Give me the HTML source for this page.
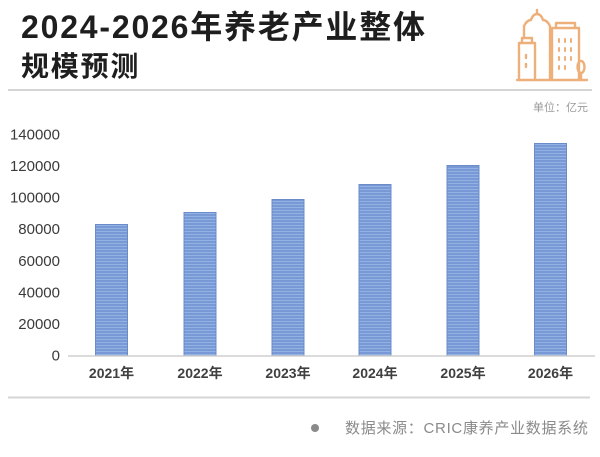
<!DOCTYPE html>
<html>
<head>
<meta charset="utf-8">
<style>
  html,body{margin:0;padding:0;background:#fff;}
  body{width:600px;height:457px;overflow:hidden;}
  svg{display:block;}
  text{font-family:"Liberation Sans","Noto Sans CJK SC",sans-serif;}
</style>
</head>
<body>
<svg width="600" height="457" viewBox="0 0 600 457" xmlns="http://www.w3.org/2000/svg">
  <defs>
    <pattern id="stripe" width="4" height="3" patternUnits="userSpaceOnUse">
      <rect width="4" height="3" fill="#7899d5"/>
      <rect y="0" width="4" height="1" fill="#93b2e4"/>
    </pattern>
  </defs>
  <rect width="600" height="457" fill="#fff"/>

  <!-- Title -->
  <text x="21" y="38" font-size="32" font-weight="700" fill="#1e1e1e" letter-spacing="1.8">2024-2026年养老产业整体</text>
  <text x="21" y="76" font-size="28" font-weight="700" fill="#1e1e1e" letter-spacing="1.8">规模预测</text>

  <!-- Icon -->
  <g fill="none" stroke="#eeb07a" stroke-width="2.4" stroke-linejoin="round" stroke-linecap="round">
    <line x1="517" y1="80" x2="587" y2="80"/>
    <polyline points="519,80 519,43 535,43 535,80"/>
    <polyline points="522,43 522,38 532,38 532,43"/>
    <line x1="526" y1="55" x2="526" y2="58"/>
    <line x1="526" y1="64" x2="526" y2="67"/>
    <path d="M524,38 L524,26 Q527,20 531,20 Q533,14 537,14 Q541,14 543,20 Q547,20 550,26 L550,80"/>
    <line x1="537" y1="14" x2="537" y2="10"/>
    <polyline points="552,80 552,28 579,28 579,80"/>
    <polyline points="556,28 556,23 575,23 575,28"/>
    <g stroke-width="2">
      <line x1="559" y1="39" x2="559" y2="42"/><line x1="565" y1="39" x2="565" y2="42"/><line x1="571" y1="39" x2="571" y2="42"/>
      <line x1="559" y1="48" x2="559" y2="51"/><line x1="565" y1="48" x2="565" y2="51"/><line x1="571" y1="48" x2="571" y2="51"/>
      <line x1="559" y1="57" x2="559" y2="60"/><line x1="565" y1="57" x2="565" y2="60"/><line x1="571" y1="57" x2="571" y2="60"/>
      <line x1="559" y1="66" x2="559" y2="69"/><line x1="565" y1="66" x2="565" y2="69"/>
    </g>
    <ellipse cx="581" cy="67" rx="3.5" ry="6"/>
    <line x1="581" y1="73" x2="581" y2="80"/>
  </g>

  <!-- top divider -->
  <line x1="8" y1="90" x2="592" y2="90" stroke="#d4d4d4" stroke-width="2"/>

  <!-- unit -->
  <text x="588" y="111" font-size="11" fill="#9a9a9a" text-anchor="end">单位：亿元</text>

  <!-- Y axis labels -->
  <g font-size="15" fill="#3a3a3a" text-anchor="end" font-weight="400">
    <text x="60" y="139.5">140000</text>
    <text x="60" y="171">120000</text>
    <text x="60" y="202.5">100000</text>
    <text x="60" y="234">80000</text>
    <text x="60" y="266">60000</text>
    <text x="60" y="297.5">40000</text>
    <text x="60" y="329">20000</text>
    <text x="60" y="360.5">0</text>
  </g>

  <!-- Bars -->
  <g fill="url(#stripe)" stroke="#6b8bc9" stroke-width="1">
    <rect x="95.5" y="224.5" width="32" height="131.5"/>
    <rect x="184" y="212.5" width="32" height="143.5"/>
    <rect x="272" y="199.5" width="32" height="156.5"/>
    <rect x="359" y="184.5" width="32" height="171.5"/>
    <rect x="447" y="165.5" width="32" height="190.5"/>
    <rect x="534.5" y="143.5" width="32" height="212.5"/>
  </g>

  <!-- X axis -->
  <line x1="68" y1="356" x2="595" y2="356" stroke="#cfcfcf" stroke-width="1.5"/>

  <!-- X labels -->
  <g font-size="14" fill="#404040" text-anchor="middle" font-weight="600">
    <text x="111.5" y="378">2021年</text>
    <text x="200" y="378">2022年</text>
    <text x="288" y="378">2023年</text>
    <text x="375" y="378">2024年</text>
    <text x="463" y="378">2025年</text>
    <text x="550.5" y="378">2026年</text>
  </g>

  <!-- bottom divider -->
  <line x1="8" y1="397.5" x2="590" y2="397.5" stroke="#d6d6d6" stroke-width="2"/>

  <!-- source -->
  <circle cx="315" cy="428" r="4" fill="#8a8a8a"/>
  <text x="345" y="433" font-size="15" fill="#8a8a8a" letter-spacing="0.7">数据来源：CRIC康养产业数据系统</text>
</svg>
</body>
</html>
